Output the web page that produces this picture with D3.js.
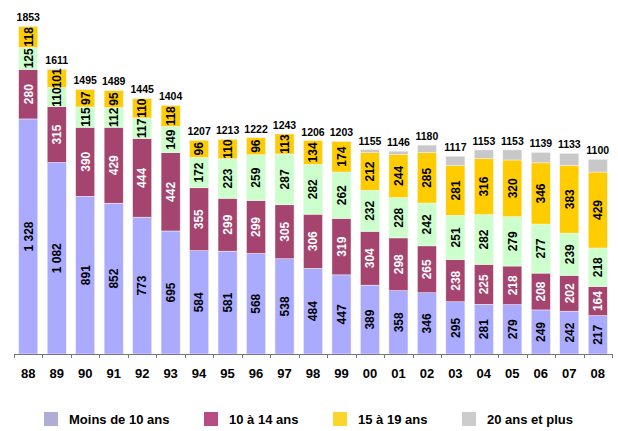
<!DOCTYPE html>
<html>
<head>
<meta charset="utf-8">
<script src="https://cdn.jsdelivr.net/npm/d3@7"></script>
<style>
  body { margin: 0; background: #fff; }
  #chart-container { width: 618px; height: 431px; }
  text { font-family: Arial, "Liberation Sans", sans-serif; font-weight: bold; }
</style>
</head>
<body>
<div id="chart-container"></div>
<script>
// Data
const years = ["88","89","90","91","92","93","94","95","96","97","98","99","00","01","02","03","04","05","06","07","08"];
const moins10 = [1328,1082,891,852,773,695,584,581,568,538,484,447,389,358,346,295,281,279,249,242,217];
const de10a14 = [280,315,390,429,444,442,355,299,299,305,306,319,304,298,265,238,225,218,208,202,164];
const vert = [125,110,115,112,117,149,172,223,259,287,282,262,232,228,242,251,282,279,277,239,218];
const de15a19 = [118,101,97,95,110,118,96,110,96,113,134,174,212,244,285,281,316,320,346,383,429];
const plus20 = [2,3,2,1,1,0,0,0,0,0,0,1,18,18,42,52,49,57,59,67,72];
const totals = [1853,1611,1495,1489,1445,1404,1207,1213,1222,1243,1206,1203,1155,1146,1180,1117,1153,1153,1139,1133,1100];
const legendLabels = ["Moins de 10 ans","10 à 14 ans","15 à 19 ans","20 ans et plus"];

function renderChart() {
    d3.select("#chart-container svg").remove();

    const width = 618, height = 431;
    const svg = d3.select("#chart-container")
        .append("svg")
        .attr("width", width)
        .attr("height", height);

    // series in stacking order, bottom to top
    const keys = ["m10", "a14", "vert", "a19", "p20"];
    const barColors = { m10: "#aaaaff", a14: "#a5456f", vert: "#ccffcc", a19: "#ffcc00", p20: "#c8c8c8" };
    const labelColors = { m10: "#000", a14: "#fff", vert: "#000", a19: "#000" };

    const data = years.map((y, i) => ({
        year: y, m10: moins10[i], a14: de10a14[i], vert: vert[i], a19: de15a19[i], p20: plus20[i], total: totals[i]
    }));

    const x = d3.scaleBand()
        .domain(years)
        .range([14, 612])
        .paddingInner(0.33)
        .paddingOuter(0.165);

    const y = d3.scaleLinear()
        .domain([0, 2000])
        .range([354, 0]);

    const stacked = d3.stack().keys(keys)(data);

    const layers = svg.append("g")
        .selectAll("g")
        .data(stacked)
        .join("g")
        .attr("fill", d => barColors[d.key]);

    layers.selectAll("rect")
        .data(d => d)
        .join("rect")
        .attr("x", d => x(d.data.year))
        .attr("width", x.bandwidth())
        .attr("y", d => y(d[1]))
        .attr("height", d => y(d[0]) - y(d[1]))
        .attr("stroke", "#f4f4f4")
        .attr("stroke-width", 0.5);

    // labels inside segments (rotated)
    const fmt = v => v >= 1000 ? d3.format(",")(v).replace(",", " ") : String(v);
    stacked.filter(s => s.key !== "p20").forEach(s => {
        svg.append("g")
            .selectAll("text")
            .data(s)
            .join("text")
            .attr("transform", d => {
                const cx = x(d.data.year) + x.bandwidth() / 2;
                const cy = (y(d[0]) + y(d[1])) / 2;
                return `translate(${cx},${cy}) rotate(-90)`;
            })
            .attr("text-anchor", "middle")
            .attr("dy", "0.36em")
            .attr("fill", labelColors[s.key])
            .style("font-size", "12px")
            .text(d => fmt(d.data[s.key]));
    });

    // totals above bars
    svg.append("g")
        .selectAll("text")
        .data(data)
        .join("text")
        .attr("x", d => x(d.year) + x.bandwidth() / 2)
        .attr("y", d => y(d.total) - 5)
        .attr("text-anchor", "middle")
        .style("font-size", "10.5px")
        .text(d => d.total);

    // x axis with ticks between categories
    const axis = svg.append("g");
    axis.append("line")
        .attr("x1", 14).attr("x2", 612)
        .attr("y1", 354.5).attr("y2", 354.5)
        .attr("stroke", "#777");
    const bounds = years.map(yr => x(yr) - x.step() * x.paddingInner() / 2);
    bounds.push(612);
    bounds[0] = 14;
    axis.selectAll("line.tick")
        .data(bounds)
        .join("line")
        .attr("class", "tick")
        .attr("x1", d => Math.round(d) + 0.5).attr("x2", d => Math.round(d) + 0.5)
        .attr("y1", 354).attr("y2", 358)
        .attr("stroke", "#777");
    axis.selectAll("text")
        .data(years)
        .join("text")
        .attr("x", d => x(d) + x.bandwidth() / 2)
        .attr("y", 378)
        .attr("text-anchor", "middle")
        .style("font-size", "13px")
        .text(d => d);

    // legend
    const legendColors = ["#b0acd8", "#b84c84", "#fcd42c", "#cccccc"];
    const legendX = [44, 204, 333, 462];
    const legend = svg.append("g")
        .selectAll("g")
        .data(legendLabels)
        .join("g")
        .attr("transform", (d, i) => `translate(${legendX[i]},412)`);
    legend.append("rect")
        .attr("width", 14).attr("height", 14)
        .attr("fill", (d, i) => legendColors[i]);
    legend.append("text")
        .attr("x", 25)
        .attr("y", 12)
        .style("font-size", "13px")
        .text(d => d);
}

renderChart();
</script>
</body>
</html>
